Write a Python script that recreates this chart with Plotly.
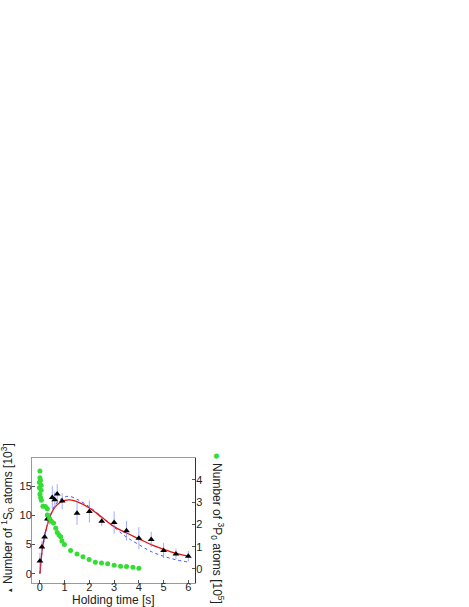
import plotly.graph_objects as go

# 1S0 atoms (left axis, 10^3)
t_s = [0.0, 0.08, 0.19, 0.3, 0.4, 0.5, 0.6, 0.7, 0.9, 1.5, 2.0, 2.5, 3.0, 3.5, 4.0, 4.5, 5.0, 5.5, 6.0]
n_s = [2.2, 4.6, 6.3, 9.4, 9.4, 13.1, 12.7, 13.7, 12.5, 10.4, 10.7, 9.0, 8.8, 7.4, 6.1, 5.9, 4.0, 3.4, 3.0]
err_s = [1.4, 1.0, 0.9, 1.1, 1.0, 2.0, 1.4, 1.7, 1.4, 2.0, 1.9, 0.8, 1.9, 1.7, 1.9, 1.3, 1.3, 0.9, 0.9]

# 3P0 atoms (right axis, 10^5)
t_p = [0.0, 0.0, 0.02, -0.02, 0.05, -0.02, 0.05, 0.0, 0.03, 0.06, 0.12, 0.22, 0.3, 0.3,
       0.39, 0.46, 0.55, 0.64, 0.7, 0.77, 0.84, 0.89, 0.99, 1.24, 1.5, 1.74, 1.99, 2.24,
       2.49, 2.74, 3.0, 3.26, 3.5, 3.76, 4.0]
n_p = [4.4, 4.09, 3.98, 3.88, 3.76, 3.64, 3.53, 3.35, 3.2, 3.08, 2.82, 2.8, 2.7, 2.42,
       2.27, 2.14, 2.06, 1.83, 1.64, 1.52, 1.45, 1.26, 1.1, 0.83, 0.67, 0.55, 0.42, 0.3,
       0.27, 0.23, 0.17, 0.12, 0.11, 0.08, 0.03]

# model curves (left axis)
t_fit = [0.0, 0.1, 0.2, 0.3, 0.4, 0.5, 0.6, 0.8, 1.0, 1.2, 1.5, 2.0, 2.5, 3.0, 3.5, 4.0, 4.5, 5.0, 5.5, 6.0]
red_fit = [0.0, 4.4, 6.7, 8.4, 9.7, 10.7, 11.4, 12.2, 12.6, 12.7, 12.4, 11.3, 9.7, 8.1, 7.0, 6.0, 5.0, 4.2, 3.5, 3.0]
blue_fit = [0.0, 4.2, 6.6, 8.4, 9.8, 10.9, 11.7, 12.7, 13.2, 13.3, 12.8, 11.5, 9.8, 8.0, 6.3, 5.0, 3.8, 3.0, 2.4, 2.0]

font = dict(family="Liberation Sans, Arial, sans-serif", size=11, color="#222")
title_font = dict(family="Liberation Sans, Arial, sans-serif", size=12, color="#222")

fig = go.Figure()
fig.add_trace(go.Scatter(x=t_p, y=n_p, yaxis="y2", mode="markers",
                         marker=dict(color="#33dd33", size=5)))
fig.add_trace(go.Scatter(x=t_fit, y=blue_fit, mode="lines", line_shape="spline",
                         line=dict(color="#3f55ff", width=1, dash="dot")))
fig.add_trace(go.Scatter(x=t_fit, y=red_fit, mode="lines", line_shape="spline",
                         line=dict(color="#e81010", width=1.3)))
fig.add_trace(go.Scatter(x=t_s, y=n_s, mode="markers",
                         marker=dict(color="black", size=6, symbol="triangle-up"),
                         error_y=dict(type="data", array=err_s, color="rgba(120,135,255,0.7)",
                                      thickness=1, width=0)))

fig.update_layout(
    width=469, height=607,
    margin=dict(l=32, r=274, t=458, b=24),
    plot_bgcolor="white", paper_bgcolor="white",
    showlegend=False, font=font,
    xaxis=dict(range=[-0.32, 6.27], tickvals=[0, 1, 2, 3, 4, 5, 6], ticks="inside",
               ticklen=3, tickcolor="#555", showgrid=False, zeroline=False,
               showline=True, linecolor="#999", mirror=True, automargin=False,
               ticklabelstandoff=-6),
    yaxis=dict(range=[-1.6, 19.9], tickvals=[0, 5, 10, 15], ticks="inside",
               ticklen=3, tickcolor="#555", showgrid=False, zeroline=False,
               showline=True, linecolor="#999", automargin=False,
               ticklabelstandoff=-3),
    yaxis2=dict(range=[-0.63, 4.98], tickvals=[0, 1, 2, 3, 4], ticks="inside",
                ticklen=3, tickcolor="#555", overlaying="y", side="right",
                showgrid=False, zeroline=False, showline=True, linecolor="#333",
                automargin=False, ticklabelstandoff=-2),
    annotations=[
        dict(text="Holding time [s]", xref="paper", yref="paper", x=0.5, y=-0.138,
             showarrow=False, xanchor="center", yanchor="middle", font=title_font),
        dict(text="<span style='font-size:6px'>▲</span> Number of <sup>1</sup>S<sub>0</sub> atoms [10<sup>3</sup>]",
             xref="paper", yref="paper", x=-0.15, y=0.514, textangle=-90,
             showarrow=False, xanchor="center", yanchor="middle", font=title_font),
        dict(text="<span style='color:#33dd33'>●</span> Number of <sup>3</sup>P<sub>0</sub> atoms [10<sup>5</sup>]",
             xref="paper", yref="paper", x=1.138, y=0.44, textangle=90,
             showarrow=False, xanchor="center", yanchor="middle", font=title_font),
    ],
)

# drop the default page margin so the figure sits at the window's corner
fig.write_html("out.html", config={"displayModeBar": False},
               post_script="document.body.style.margin='0';")
